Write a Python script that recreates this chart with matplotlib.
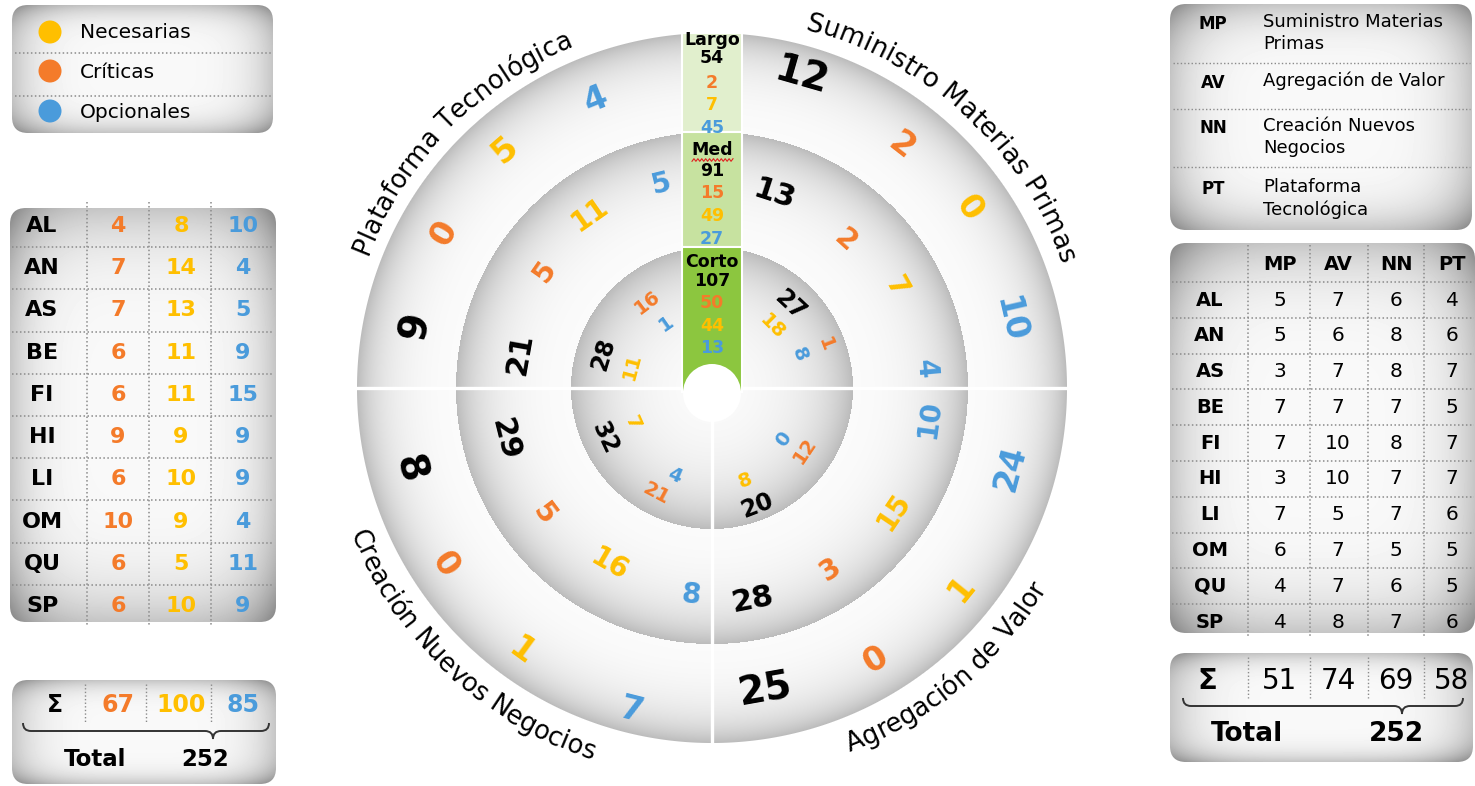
import numpy as np
import matplotlib
matplotlib.use("Agg")
import matplotlib.pyplot as plt
from matplotlib.patches import FancyBboxPatch, Circle, Rectangle, PathPatch
from matplotlib.path import Path
from matplotlib.font_manager import FontProperties, findfont, get_font

plt.rcParams['font.family'] = 'DejaVu Sans'

# ---------------- data ----------------
categories = ["Necesarias", "Críticas", "Opcionales"]
horizons = ["Largo", "Med", "Corto"]
quadrant_names = ["Plataforma Tecnológica", "Suministro Materias Primas",
                  "Agregación de Valor", "Creación Nuevos Negocios"]   # PT, MP, AV, NN

# per horizon, per quadrant (PT, MP, AV, NN)
largo_crit = [0, 2, 0, 0]
largo_nec = [5, 0, 1, 1]
largo_opc = [4, 10, 24, 7]
med_crit = [5, 2, 3, 5]
med_nec = [11, 7, 15, 16]
med_opc = [5, 4, 10, 8]
corto_crit = [16, 1, 12, 21]
corto_nec = [11, 18, 8, 7]
corto_opc = [1, 8, 0, 4]

regions = ["AL", "AN", "AS", "BE", "FI", "HI", "LI", "OM", "QU", "SP"]
reg_criticas = [4, 7, 7, 6, 6, 9, 6, 10, 6, 6]
reg_necesarias = [8, 14, 13, 11, 11, 9, 10, 9, 5, 10]
reg_opcionales = [10, 4, 5, 9, 15, 9, 9, 4, 11, 9]

axis_codes = ["MP", "AV", "NN", "PT"]
axis_desc = ["Suministro Materias\nPrimas", "Agregación de Valor",
             "Creación Nuevos\nNegocios", "Plataforma\nTecnológica"]
reg_mp = [5, 5, 3, 7, 7, 3, 7, 6, 4, 4]
reg_av = [7, 6, 7, 7, 10, 10, 5, 7, 7, 8]
reg_nn = [6, 8, 8, 7, 8, 7, 7, 5, 6, 7]
reg_pt = [4, 6, 7, 5, 7, 7, 6, 5, 5, 6]

# ---------------- style ----------------
ORANGE = '#F47B2A'
YELLOW = '#FFBF00'
BLUE = '#4A9BDB'
DOT = (0, (1, 1.6))

W, H = 1475, 786
fig = plt.figure(figsize=(W / 100, H / 100), dpi=100)
ax = fig.add_axes([0, 0, 1, 1])
ax.axis('off')

cx, cy = 712, 388
R1, R2, R3 = 141, 256, 355

# ---------------- shaded discs ----------------
xs = np.arange(cx - R3 - 3, cx + R3 + 3) + 0.5
ys = np.arange(cy - R3 - 3, cy + R3 + 3) + 0.5
X, Y = np.meshgrid(xs, ys)
rr = np.hypot(X - cx, Y - cy)
val = np.ones_like(rr)
for a, b in zip([0, R1, R2], [R1, R2, R3]):
    m = (rr >= a) & (rr < b + 1)
    t = np.clip((rr[m] - a) / (b - a), 0, 1)
    val[m] = 0.985 - 0.13 * t ** 2 - 0.12 * t ** 6
alpha = np.clip(R3 + 0.5 - rr, 0, 1)
img = np.dstack([val, val, val, alpha])
ax.imshow(img, extent=(xs[0] - 0.5, xs[-1] + 0.5, ys[-1] + 0.5, ys[0] - 0.5),
          origin='upper', zorder=1, interpolation='bilinear')

# separators
ax.plot([cx - R3 - 3, cx + R3 + 3], [cy, cy], color='white', lw=2.4, zorder=2)
ax.plot([cx, cx], [cy, cy + R3 + 3], color='white', lw=2.4, zorder=2)

# green column
col_w = 60
greens = ['#e1efcd', '#c7e2a0', '#8cc63f']
bounds = [cy - R3, cy - R2, cy - R1, cy + 4]
for g, ytop, ybot in zip(greens, bounds[:-1], bounds[1:]):
    ax.add_patch(Rectangle((cx - col_w / 2, ytop), col_w, ybot - ytop, fc=g,
                           ec='white', lw=1.5, zorder=3))
ax.add_patch(Circle((cx, cy + 5), 29, fc='white', ec='none', zorder=4))

# column texts
sums = []
for crit, nec, opc in [(largo_crit, largo_nec, largo_opc), (med_crit, med_nec, med_opc),
                       (corto_crit, corto_nec, corto_opc)]:
    sums.append((sum(crit) + sum(nec) + sum(opc), sum(crit), sum(nec), sum(opc)))
col_y = [[40, 58, 83, 105, 128], [150, 171, 193, 216, 239], [262, 281, 303, 326, 348]]
for h, s, yy in zip(horizons, sums, col_y):
    ax.text(cx, yy[0], h, ha='center', va='center', fontsize=12.5, fontweight='bold', zorder=6)
    for v, c, y in zip(s, ['black', ORANGE, YELLOW, BLUE], yy[1:]):
        ax.text(cx, y, str(v), ha='center', va='center', fontsize=12.5,
                fontweight='bold', color=c, zorder=6)
# spell-check squiggle under "Med"
sq_x = np.linspace(cx - 20, cx + 21, 22)
ax.plot(sq_x, 160 + 1.3 * np.where(np.arange(22) % 2 == 0, 1, -1), color='#e02020', lw=0.8, zorder=6)

# ---------------- ring numbers ----------------
# label layout: [ring][quadrant] -> (angle deg, radius px) for total, crit, nec, opc
label_pos = [
    [  # Largo (outer)
        [(168, 303), (150, 309), (131, 315), (112, 311)],
        [(74, 325), (52, 307), (35, 313), (13, 306)],
        [(-80, 307), (-59, 317), (-39, 320), (-15, 309)],
        [(195, 313), (213.5, 320), (234, 325), (256, 332)],
    ],
    [  # Med
        [(170, 195), (145, 204), (125, 212), (104, 210)],
        [(72, 203), (48, 199), (29, 210), (5, 214)],
        [(-79, 216), (-57, 217), (-34, 220), (-8, 220)],
        [(194, 213), (217, 210), (240, 204), (264, 208)],
    ],
    [  # Corto (inner)
        [(163, 114), (127, 107), (165, 83), (125, 79)],
        [(47, 114), (21, 121), (45, 86), (21, 94)],
        [(-69, 126), (-34, 112), (-70, 98), (-36, 88)],
        [(205, 118), (242, 119), (204, 87), (247, 95)],
    ],
]
fs_total = [28, 22, 17]
fs_part = [24, 20, 14]
ring_data = [(largo_crit, largo_nec, largo_opc), (med_crit, med_nec, med_opc),
             (corto_crit, corto_nec, corto_opc)]
for ri, (crit, nec, opc) in enumerate(ring_data):
    for qi in range(4):
        vals = [crit[qi] + nec[qi] + opc[qi], crit[qi], nec[qi], opc[qi]]
        for k, (v, c) in enumerate(zip(vals, ['black', ORANGE, YELLOW, BLUE])):
            th, r = label_pos[ri][qi][k]
            t = np.radians(th)
            rot = th - 90 if 0 < (th % 360) < 180 else th + 90
            ax.text(cx + r * np.cos(t), cy - r * np.sin(t), str(v), color=c,
                    fontsize=fs_total[ri] if k == 0 else fs_part[ri], fontweight='bold',
                    rotation=rot, rotation_mode='anchor', ha='center', va='center', zorder=5)


# ---------------- curved quadrant titles ----------------
def advances(s, fs):
    font = get_font(findfont(FontProperties(family='DejaVu Sans')))
    font.set_size(fs, 72)
    return np.array([font.load_char(ord(ch)).linearHoriAdvance / 65536 * 100 / 72 for ch in s])


def arc_text(s, theta_mid, r, fs, top=True):
    adv = advances(s, fs)
    pos = np.cumsum(adv) - adv / 2 - adv.sum() / 2
    for ch, p in zip(s, pos):
        if top:
            th = np.radians(theta_mid) - p / r
            rot = np.degrees(th) - 90
        else:
            th = np.radians(theta_mid) + p / r
            rot = np.degrees(th) + 90
        ax.text(cx + r * np.cos(th), cy - r * np.sin(th), ch, rotation=rot,
                rotation_mode='anchor', ha='center', va='baseline', fontsize=fs, zorder=5)


arc_text(quadrant_names[0], 135.5, 369, 18.5, top=True)
arc_text(quadrant_names[1], 47.5, 370, 19, top=True)
arc_text(quadrant_names[2], -50, 389, 18.5, top=False)
arc_text(quadrant_names[3], 227, 391, 18.5, top=False)


# ---------------- side panels ----------------
def panel(x0, y0, x1, y1, rad=16):
    box = FancyBboxPatch((x0, y0), x1 - x0, y1 - y0, boxstyle=f"round,pad=0,rounding_size={rad}",
                         fc='none', ec='none', zorder=1)
    ax.add_patch(box)
    u = np.linspace(-1, 1, int(x1 - x0))
    v = np.linspace(-1, 1, int(y1 - y0))
    U, V = np.meshgrid(u, v)
    d = (np.abs(U) ** 4 + np.abs(V) ** 4) ** 0.25
    g = 0.975 - 0.2 * d ** 5
    im = ax.imshow(g, cmap='gray', vmin=0, vmax=1, extent=(x0, x1, y1, y0),
                   origin='upper', zorder=1, interpolation='bilinear')
    im.set_clip_path(box)


def brace(xa, xb, xt, y, h=8):
    verts = [(xa, y - h), (xa, y), (xa + h, y), (xt - h, y), (xt, y), (xt, y + h),
             (xt, y), (xt + h, y), (xb - h, y), (xb, y), (xb, y - h)]
    codes = [Path.MOVETO, Path.CURVE3, Path.CURVE3, Path.LINETO, Path.CURVE3, Path.CURVE3,
             Path.CURVE3, Path.CURVE3, Path.LINETO, Path.CURVE3, Path.CURVE3]
    ax.add_patch(PathPatch(Path(verts, codes), fc='none', ec='#333333', lw=1.4, zorder=3))


# legend (left top)
panel(12, 5, 273, 133)
for y, lab, c in zip([32, 71, 111], categories, [YELLOW, ORANGE, BLUE]):
    ax.add_patch(Circle((50, y), 11.5, fc=c, ec='none', zorder=3))
    ax.text(80, y + 1, lab, fontsize=14.5, va='center', ha='left', zorder=3)
for y in [53, 96]:
    ax.plot([15, 271], [y, y], color='#8a8a8a', lw=1.1, ls=DOT, zorder=2)

# regional table (left)
panel(10, 208, 276, 622)
rows_l = np.linspace(226, 606, len(regions))
cols_l = [42, 118, 181, 243]
for x in [87, 149, 211]:
    ax.plot([x, x], [202, 626], color='#8a8a8a', lw=1.1, ls=DOT, zorder=2)
for y in (rows_l[:-1] + rows_l[1:]) / 2:
    ax.plot([12, 274], [y, y], color='#8a8a8a', lw=1.1, ls=DOT, zorder=2)
for i, rg in enumerate(regions):
    ax.text(cols_l[0], rows_l[i], rg, ha='center', va='center', fontsize=16, fontweight='bold', zorder=3)
    for x, v, c in zip(cols_l[1:], [reg_criticas[i], reg_necesarias[i], reg_opcionales[i]],
                       [ORANGE, YELLOW, BLUE]):
        ax.text(x, rows_l[i], str(v), ha='center', va='center', fontsize=16,
                fontweight='bold', color=c, zorder=3)

# sums (left bottom)
panel(12, 680, 276, 784)
for x in [85, 146, 211]:
    ax.plot([x, x], [684, 722], color='#8a8a8a', lw=1.0, ls=DOT, zorder=2)
ax.text(55, 705, 'Σ', ha='center', va='center', fontsize=17, fontweight='bold', zorder=3)
for x, v, c in zip(cols_l[1:], [sum(reg_criticas), sum(reg_necesarias), sum(reg_opcionales)],
                   [ORANGE, YELLOW, BLUE]):
    ax.text(x, 705, str(v), ha='center', va='center', fontsize=17, fontweight='bold', color=c, zorder=3)
brace(23, 269, 213, 731)
ax.text(95, 760, 'Total', ha='center', va='center', fontsize=16.5, fontweight='bold', zorder=3)
ax.text(205, 760, str(sum(reg_criticas) + sum(reg_necesarias) + sum(reg_opcionales)),
        ha='center', va='center', fontsize=16.5, fontweight='bold', zorder=3)

# axis legend (right top)
panel(1170, 4, 1472, 230)
leg_y = [24, 83, 128, 189]
for y, code, desc in zip(leg_y, axis_codes, axis_desc):
    ax.text(1213, y, code, ha='center', va='center', fontsize=12, fontweight='bold', zorder=3)
    ax.text(1263, y - 11, desc, ha='left', va='top', fontsize=13, linespacing=1.3, zorder=3)
for y in [63, 109, 167]:
    ax.plot([1173, 1470], [y, y], color='#8a8a8a', lw=1.0, ls=DOT, zorder=2)

# regional table by axis (right)
panel(1170, 243, 1475, 633)
rows_r = np.linspace(300, 622, len(regions))
cols_r = [1210, 1280, 1338, 1396, 1452]
for x in [1248, 1310, 1368, 1424]:
    ax.plot([x, x], [245, 636], color='#8a8a8a', lw=1.1, ls=DOT, zorder=2)
for y in np.r_[282, (rows_r[:-1] + rows_r[1:]) / 2]:
    ax.plot([1172, 1474], [y, y], color='#8a8a8a', lw=1.1, ls=DOT, zorder=2)
for x, code in zip(cols_r[1:], axis_codes):
    ax.text(x, 265, code, ha='center', va='center', fontsize=14, fontweight='bold', zorder=3)
table_r = [reg_mp, reg_av, reg_nn, reg_pt]
for i, rg in enumerate(regions):
    ax.text(cols_r[0], rows_r[i], rg, ha='center', va='center', fontsize=14, fontweight='bold', zorder=3)
    for x, col in zip(cols_r[1:], table_r):
        ax.text(x, rows_r[i], str(col[i]), ha='center', va='center', fontsize=14.5, zorder=3)

# sums (right bottom)
panel(1170, 653, 1473, 762)
for x in [1248, 1310, 1368, 1424]:
    ax.plot([x, x], [657, 698], color='#8a8a8a', lw=1.0, ls=DOT, zorder=2)
ax.text(1207, 681, 'Σ', ha='center', va='center', fontsize=21, fontweight='bold', zorder=3)
for x, col in zip(cols_r[1:], table_r):
    ax.text(x, 681, str(sum(col)), ha='center', va='center', fontsize=20, zorder=3)
brace(1183, 1463, 1402, 706)
ax.text(1247, 734, 'Total', ha='center', va='center', fontsize=19, fontweight='bold', zorder=3)
ax.text(1396, 734, str(sum(map(sum, table_r))), ha='center', va='center',
        fontsize=19, fontweight='bold', zorder=3)

ax.set_xlim(0, W)
ax.set_ylim(H, 0)
ax.set_aspect('auto')
fig.savefig('out.png', dpi=100, facecolor='white')
